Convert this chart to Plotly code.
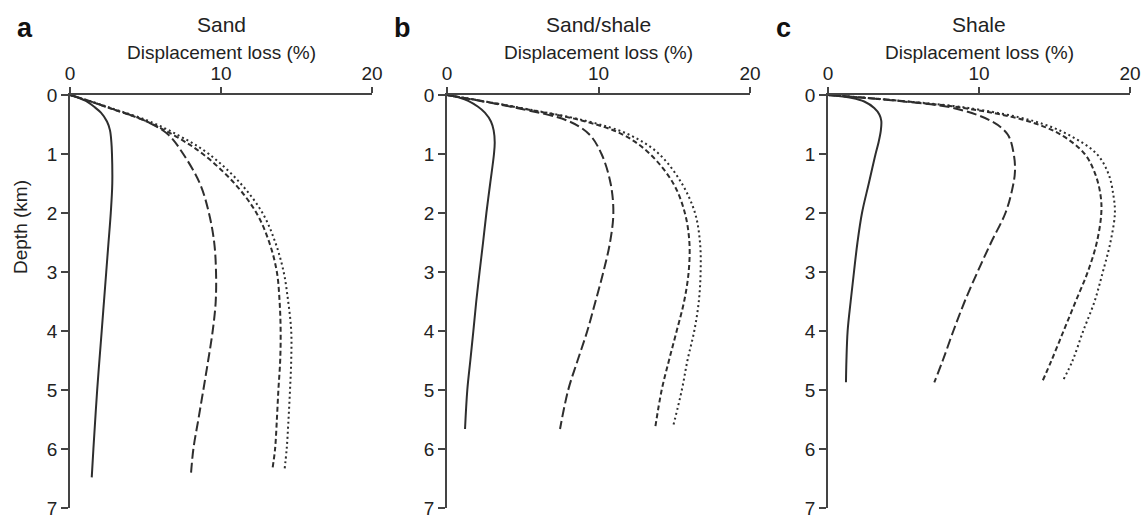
import plotly.graph_objects as go

# ---------------- data ----------------
panel_titles = ["Sand", "Sand/shale", "Shale"]
panel_letters = ["a", "b", "c"]
x_ticks = [0, 10, 20]
y_ticks = [0, 1, 2, 3, 4, 5, 6, 7]

# Panel a (Sand)
a_solid_depth = [0, 0.05, 0.1, 0.2, 0.3, 0.45, 0.6, 0.8, 1.0, 1.5, 2.0, 2.5, 3.0, 3.5, 4.0, 5.0, 6.0, 6.48]
a_solid_loss = [0, 0.6, 1.05, 1.6, 2.05, 2.45, 2.65, 2.74, 2.78, 2.8, 2.7, 2.55, 2.4, 2.25, 2.1, 1.8, 1.55, 1.44]
a_long_depth = [0, 0.1, 0.22, 0.44, 0.67, 1.0, 1.5, 2.0, 2.5, 3.0, 3.5, 4.0, 4.5, 5.0, 5.5, 6.0, 6.46]
a_long_loss = [0, 1.25, 2.6, 5.0, 6.5, 7.5, 8.6, 9.2, 9.55, 9.67, 9.65, 9.45, 9.15, 8.83, 8.5, 8.17, 8.0]
a_short_depth = [0, 0.1, 0.22, 0.44, 0.7, 1.0, 1.5, 2.0, 2.5, 3.0, 3.5, 4.0, 4.5, 5.0, 5.5, 6.0, 6.35]
a_short_loss = [0, 1.25, 2.6, 5.0, 7.0, 8.8, 10.9, 12.35, 13.2, 13.7, 13.88, 13.95, 13.92, 13.8, 13.7, 13.58, 13.4]
a_dot_depth = [0, 0.1, 0.22, 0.44, 0.7, 1.0, 1.5, 2.0, 2.5, 3.0, 3.5, 4.0, 4.5, 5.0, 5.5, 6.0, 6.37]
a_dot_loss = [0, 1.3, 2.7, 5.2, 7.3, 9.2, 11.3, 12.75, 13.6, 14.15, 14.45, 14.65, 14.65, 14.57, 14.47, 14.35, 14.2]

# Panel b (Sand/shale)
b_solid_depth = [0, 0.05, 0.1, 0.2, 0.3, 0.45, 0.6, 0.8, 1.0, 1.5, 2.0, 2.5, 3.0, 3.5, 4.0, 4.5, 5.0, 5.66]
b_solid_loss = [0, 0.9, 1.4, 2.05, 2.5, 2.9, 3.08, 3.15, 3.1, 2.85, 2.6, 2.38, 2.15, 1.93, 1.74, 1.54, 1.34, 1.19]
b_long_depth = [0, 0.1, 0.22, 0.44, 0.67, 1.0, 1.5, 2.0, 2.5, 3.0, 3.5, 4.0, 4.5, 5.0, 5.66]
b_long_loss = [0, 2.2, 4.6, 8.0, 9.4, 10.2, 10.8, 10.98, 10.76, 10.32, 9.8, 9.26, 8.62, 8.0, 7.46]
b_short_depth = [0, 0.1, 0.22, 0.44, 0.67, 1.0, 1.5, 2.0, 2.5, 3.0, 3.5, 4.0, 4.5, 5.0, 5.66]
b_short_loss = [0, 2.3, 4.8, 9.0, 11.6, 13.4, 14.94, 15.7, 16.0, 15.95, 15.65, 15.16, 14.65, 14.17, 13.73]
b_dot_depth = [0, 0.1, 0.22, 0.44, 0.67, 1.0, 1.5, 2.0, 2.5, 3.0, 3.5, 4.0, 4.5, 5.0, 5.6]
b_dot_loss = [0, 2.3, 4.9, 9.2, 12.0, 14.0, 15.5, 16.37, 16.7, 16.74, 16.62, 16.32, 15.87, 15.5, 14.94]

# Panel c (Shale)
c_solid_depth = [0, 0.05, 0.11, 0.22, 0.33, 0.44, 0.6, 0.8, 1.0, 1.5, 2.0, 2.5, 3.0, 3.5, 4.0, 4.5, 4.87]
c_solid_loss = [0, 1.6, 2.4, 3.06, 3.4, 3.53, 3.5, 3.35, 3.15, 2.7, 2.25, 1.95, 1.72, 1.5, 1.3, 1.22, 1.19]
c_long_depth = [0, 0.05, 0.11, 0.22, 0.44, 0.67, 1.0, 1.3, 1.6, 2.0, 2.5, 3.0, 3.5, 4.0, 4.5, 4.87]
c_long_loss = [0, 2.5, 5.0, 8.3, 10.8, 11.9, 12.3, 12.38, 12.2, 11.75, 10.8, 9.9, 9.05, 8.3, 7.6, 7.04]
c_short_depth = [0, 0.05, 0.11, 0.22, 0.44, 0.67, 1.0, 1.34, 1.7, 2.0, 2.5, 3.0, 3.5, 4.0, 4.5, 4.87]
c_short_loss = [0, 2.6, 5.2, 9.0, 13.2, 15.4, 17.0, 17.7, 18.05, 18.1, 17.8, 17.2, 16.4, 15.6, 14.8, 14.17]
c_dot_depth = [0, 0.05, 0.11, 0.22, 0.44, 0.67, 1.0, 1.34, 1.7, 2.0, 2.5, 3.0, 3.5, 4.0, 4.5, 4.82]
c_dot_loss = [0, 2.6, 5.3, 9.3, 13.6, 15.9, 17.8, 18.58, 18.9, 19.0, 18.7, 18.2, 17.65, 16.9, 16.2, 15.6]

panels = [
    [(a_solid_loss, a_solid_depth), (a_long_loss, a_long_depth), (a_short_loss, a_short_depth), (a_dot_loss, a_dot_depth)],
    [(b_solid_loss, b_solid_depth), (b_long_loss, b_long_depth), (b_short_loss, b_short_depth), (b_dot_loss, b_dot_depth)],
    [(c_solid_loss, c_solid_depth), (c_long_loss, c_long_depth), (c_short_loss, c_short_depth), (c_dot_loss, c_dot_depth)],
]

# ---------------- styling ----------------
W, H = 1144, 520
FONT = "Liberation Sans, Arial, sans-serif"
LINE_COL = "#2e2e2e"
AXIS_COL = "#444444"
TXT_COL = "#222222"
dashes = ["solid", "10px,4px", "5px,3px", "2px,3px"]
x_px = [(70, 372), (447, 750), (828, 1130)]
y_px = (95, 508)

fig = go.Figure()
for i, series in enumerate(panels):
    xa = "x" if i == 0 else f"x{i+1}"
    ya = "y" if i == 0 else f"y{i+1}"
    for j, (xs, ys) in enumerate(series):
        fig.add_trace(go.Scatter(
            x=xs, y=ys, mode="lines", xaxis=xa, yaxis=ya,
            line=dict(color=LINE_COL, width=2, dash=dashes[j], shape="spline", smoothing=1.0),
            showlegend=False, hoverinfo="skip"))

layout = dict(
    width=W, height=H, margin=dict(l=0, r=0, t=0, b=0, autoexpand=False),
    paper_bgcolor="white", plot_bgcolor="white",
    font=dict(family=FONT, size=19, color=TXT_COL),
    showlegend=False,
)
ydom = [1 - y_px[1] / H, 1 - y_px[0] / H]
annotations = []
for i in range(3):
    sfx = "" if i == 0 else str(i + 1)
    x0, x1 = x_px[i]
    layout["xaxis" + sfx] = dict(
        domain=[x0 / W, x1 / W], range=[0, 20], side="top", anchor="y" + sfx,
        tickvals=x_ticks, ticks="outside", ticklen=6, tickwidth=1.5, tickcolor=AXIS_COL,
        showline=True, linecolor=AXIS_COL, linewidth=1.5, showgrid=False, zeroline=False,
        automargin=False, ticklabeloverflow="allow",
        tickfont=dict(size=19, color=TXT_COL), fixedrange=True)
    layout["yaxis" + sfx] = dict(
        domain=ydom, range=[7, 0], anchor="x" + sfx,
        tickvals=y_ticks, ticks="outside", ticklen=7, tickwidth=1.5, tickcolor=AXIS_COL,
        showline=True, linecolor=AXIS_COL, linewidth=1.5, showgrid=False, zeroline=False,
        automargin=False, ticklabeloverflow="allow",
        tickfont=dict(size=19, color=TXT_COL), fixedrange=True)
    cx = (x0 + x1) / 2 / W
    annotations.append(dict(text=panel_titles[i], x=cx, y=1 - 24 / H, xref="paper", yref="paper",
                            xanchor="center", yanchor="middle", showarrow=False,
                            font=dict(size=21, family=FONT, color=TXT_COL)))
    annotations.append(dict(text="Displacement loss (%)", x=cx, y=1 - 53 / H, xref="paper", yref="paper",
                            xanchor="center", yanchor="middle", showarrow=False,
                            font=dict(size=19, family=FONT, color=TXT_COL)))
    annotations.append(dict(text="<b>" + panel_letters[i] + "</b>", x=(x0 - 45) / W, y=1 - 28 / H,
                            xref="paper", yref="paper", xanchor="center", yanchor="middle",
                            showarrow=False, font=dict(size=27, family=FONT, color="#111111")))
annotations.append(dict(text="Depth (km)", x=20 / W, y=1 - 227 / H, xref="paper", yref="paper",
                        xanchor="center", yanchor="middle", textangle=-90, showarrow=False,
                        font=dict(size=19, family=FONT, color=TXT_COL)))
layout["annotations"] = annotations
fig.update_layout(**layout)
fig.write_html("out.html")
